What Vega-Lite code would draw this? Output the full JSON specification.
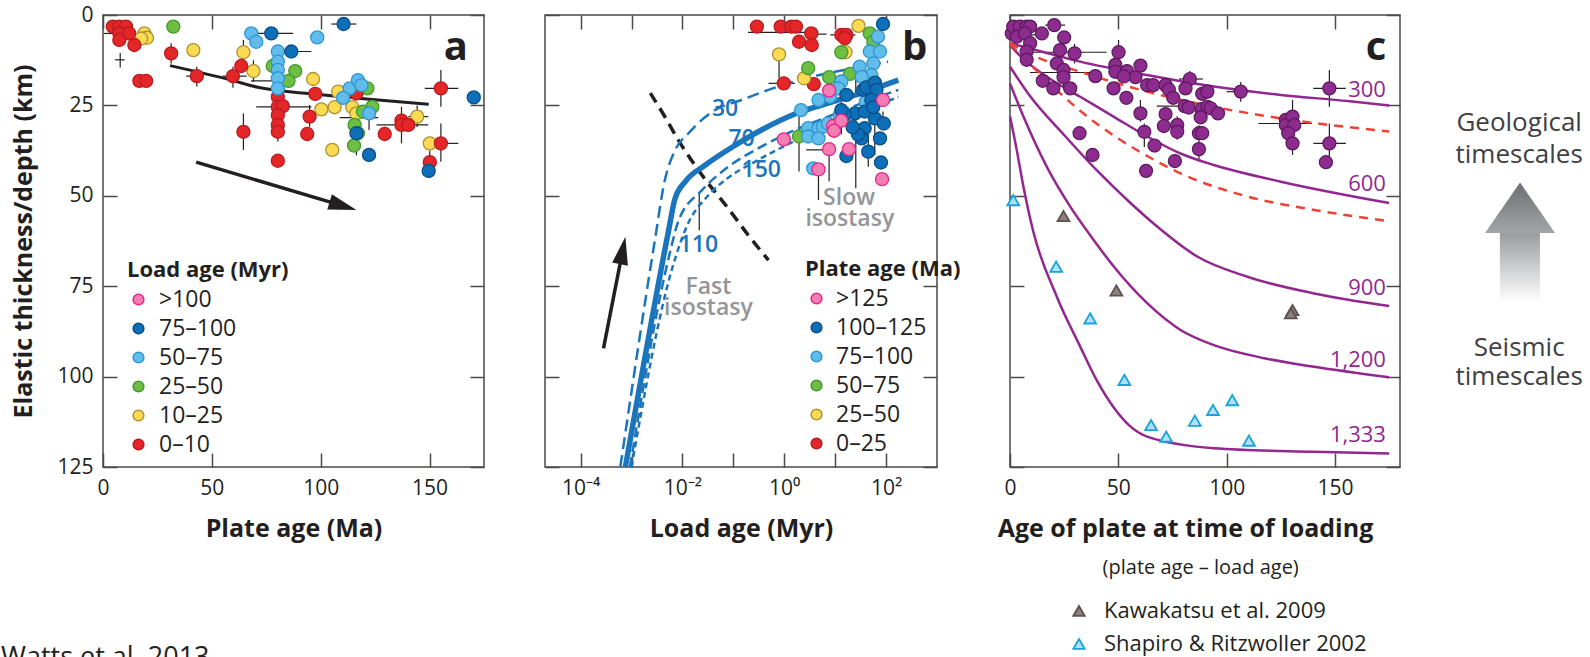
{
"$schema":"https://vega.github.io/schema/vega-lite/v6.json",
"padding":{"left":0,"top":3,"right":5,"bottom":0},
"background":"white",
"config":{
 "font":"Open Sans",
 "view":{"stroke":"#4a4a4a","strokeWidth":1.5},
 "axis":{"domain":false,"grid":false,"tickSize":-14,"tickColor":"#4a4a4a","tickWidth":1.5,"labelFont":"Open Sans","labelFontSize":21,"labelColor":"#231f20","titleFont":"Open Sans","titleFontSize":25,"titleFontWeight":"bold","titleColor":"#231f20","labelFlush":false,"labelOverlap":false},
 "legend":{"labelFont":"Open Sans","titleFont":"Open Sans","labelColor":"#231f20","titleColor":"#231f20"}
},
"datasets":{
 "a_pts":[
  {"x":19.0,"y":5.1,"c":"10–25"},{"x":20.2,"y":6.3,"c":"10–25"},{"x":17.5,"y":6.5,"c":"10–25"},{"x":41.5,"y":9.7,"c":"10–25"},{"x":64.5,"y":10.3,"c":"10–25"},{"x":69.1,"y":15.5,"c":"10–25"},{"x":96.5,"y":17.7,"c":"10–25"},{"x":108.0,"y":21.2,"c":"10–25"},{"x":100.3,"y":26.1,"c":"10–25"},{"x":106.4,"y":25.5,"c":"10–25"},{"x":114.5,"y":25.5,"c":"10–25"},{"x":116.4,"y":27.2,"c":"10–25"},{"x":105.3,"y":37.3,"c":"10–25"},{"x":144.3,"y":28.1,"c":"10–25"},{"x":150.1,"y":35.5,"c":"10–25"},
  {"x":32.3,"y":3.2,"c":"25–50"},{"x":78.0,"y":14.1,"c":"25–50"},{"x":88.3,"y":15.5,"c":"25–50"},{"x":85.2,"y":18.2,"c":"25–50"},{"x":121.4,"y":20.3,"c":"25–50"},{"x":123.7,"y":25.4,"c":"25–50"},{"x":119.4,"y":26.7,"c":"25–50"},{"x":115.6,"y":30.4,"c":"25–50"},{"x":117.1,"y":32.7,"c":"25–50"},{"x":115.3,"y":36.1,"c":"25–50"},
  {"x":4.5,"y":3.2,"c":"0–10"},{"x":7.5,"y":3.2,"c":"0–10"},{"x":10.6,"y":3.2,"c":"0–10"},{"x":7.5,"y":5.1,"c":"0–10"},{"x":12.0,"y":5.1,"c":"0–10"},{"x":7.5,"y":6.9,"c":"0–10"},{"x":14.4,"y":8.3,"c":"0–10"},{"x":31.3,"y":10.6,"c":"0–10"},{"x":16.7,"y":18.2,"c":"0–10"},{"x":19.8,"y":18.2,"c":"0–10"},{"x":43.1,"y":16.9,"c":"0–10"},{"x":59.7,"y":16.9,"c":"0–10"},{"x":63.5,"y":14.1,"c":"0–10"},{"x":64.5,"y":32.3,"c":"0–10"},{"x":80.3,"y":22.6,"c":"0–10"},{"x":80.3,"y":25.4,"c":"0–10"},{"x":82.6,"y":25.2,"c":"0–10"},{"x":80.3,"y":27.7,"c":"0–10"},{"x":80.3,"y":30.4,"c":"0–10"},{"x":80.3,"y":32.3,"c":"0–10"},{"x":80.3,"y":40.3,"c":"0–10"},{"x":94.9,"y":28.1,"c":"0–10"},{"x":93.8,"y":32.9,"c":"0–10"},{"x":97.5,"y":21.8,"c":"0–10"},{"x":116.4,"y":21.7,"c":"0–10"},{"x":129.4,"y":32.9,"c":"0–10"},{"x":137.1,"y":29.2,"c":"0–10"},{"x":137.1,"y":30.4,"c":"0–10"},{"x":140.2,"y":30.4,"c":"0–10"},{"x":155.2,"y":20.3,"c":"0–10"},{"x":155.2,"y":35.5,"c":"0–10"},{"x":150.1,"y":40.7,"c":"0–10"},
  {"x":68.1,"y":5.1,"c":"50–75"},{"x":70.4,"y":7.4,"c":"50–75"},{"x":98.4,"y":6.2,"c":"50–75"},{"x":80.3,"y":10.1,"c":"50–75"},{"x":80.3,"y":12.9,"c":"50–75"},{"x":80.3,"y":15.2,"c":"50–75"},{"x":80.3,"y":17.5,"c":"50–75"},{"x":80.3,"y":20.3,"c":"50–75"},{"x":113.3,"y":20.3,"c":"50–75"},{"x":117.1,"y":18.0,"c":"50–75"},{"x":118.7,"y":19.4,"c":"50–75"},{"x":110.3,"y":22.9,"c":"50–75"},{"x":122.2,"y":27.2,"c":"50–75"},
  {"x":77.3,"y":5.1,"c":"75–100"},{"x":86.5,"y":10.1,"c":"75–100"},{"x":110.5,"y":2.5,"c":"75–100"},{"x":170.3,"y":22.8,"c":"75–100"},{"x":116.4,"y":32.7,"c":"75–100"},{"x":122.2,"y":38.7,"c":"75–100"},{"x":149.6,"y":43.1,"c":"75–100"}
 ],
 "a_ev":[
  {"x":7.9,"y1":10.5,"y2":14.5},{"x":31.3,"y1":7.8,"y2":13.4},{"x":43.1,"y1":14.3,"y2":19.8},{"x":59.7,"y1":14.3,"y2":20.1},{"x":64.5,"y1":27.2,"y2":37.3},{"x":64.5,"y1":6.9,"y2":12.9},{"x":94.9,"y1":24.9,"y2":30.9},{"x":129.4,"y1":30.9,"y2":34.6},{"x":137.1,"y1":25.4,"y2":35.5},{"x":155.2,"y1":15.2,"y2":25.4},{"x":155.2,"y1":30.0,"y2":40.6},{"x":150.1,"y1":37.5,"y2":45.0},{"x":116.4,"y1":28.1,"y2":38.8},{"x":122.2,"y1":23.5,"y2":31.8},{"x":69.1,"y1":12.5,"y2":18.5},{"x":80.3,"y1":24.0,"y2":35.0},{"x":144.3,"y1":25.0,"y2":31.0}
 ],
 "a_eh":[
  {"x1":0.5,"x2":13.8,"y":5.1},{"x1":5.5,"x2":10.0,"y":12.4},{"x1":38.2,"x2":45.1,"y":16.9},{"x1":68.1,"x2":87.3,"y":5.1},{"x1":80.3,"x2":95.7,"y":10.1},{"x1":68.0,"x2":87.0,"y":18.2},{"x1":70.4,"x2":95.7,"y":25.4},{"x1":104.9,"x2":116.4,"y":2.5},{"x1":125.6,"x2":149.4,"y":30.4},{"x1":147.8,"x2":163.2,"y":20.3},{"x1":150.1,"x2":163.2,"y":35.5},{"x1":140.2,"x2":149.4,"y":28.1},{"x1":108.7,"x2":126.4,"y":28.4},{"x1":55.0,"x2":66.0,"y":16.9}
 ],
 "a_line":[{"x":30.8,"y":14.0},{"x":58.9,"y":18.0},{"x":71.1,"y":20.0},{"x":94.2,"y":21.7},{"x":117.1,"y":23.0},{"x":149.6,"y":24.7}],
 "b_pts":[
  {"x":0.29,"y":3.2,"c":"0–25"},{"x":0.85,"y":3.2,"c":"0–25"},{"x":1.38,"y":3.2,"c":"0–25"},{"x":1.70,"y":3.2,"c":"0–25"},{"x":3.4,"y":5.1,"c":"0–25"},{"x":1.95,"y":7.4,"c":"0–25"},{"x":3.47,"y":8.3,"c":"0–25"},{"x":13.2,"y":5.5,"c":"0–25"},{"x":16.6,"y":5.5,"c":"0–25"},{"x":15.5,"y":6.4,"c":"0–25"},{"x":0.98,"y":18.9,"c":"0–25"},{"x":3.8,"y":19.1,"c":"0–25"},
  {"x":28.8,"y":3.0,"c":"25–50"},{"x":0.79,"y":10.9,"c":"25–50"},{"x":2.45,"y":17.5,"c":"25–50"},{"x":16.0,"y":10.3,"c":"25–50"},
  {"x":47.9,"y":5.1,"c":"50–75"},{"x":56.2,"y":7.4,"c":"50–75"},{"x":13.2,"y":10.3,"c":"50–75"},{"x":2.95,"y":14.7,"c":"50–75"},{"x":7.6,"y":17.2,"c":"50–75"},{"x":19.5,"y":16.3,"c":"50–75"},{"x":1.95,"y":33.6,"c":"50–75"},
  {"x":69.2,"y":6.0,"c":"75–100"},{"x":47.9,"y":10.1,"c":"75–100"},{"x":75.9,"y":10.1,"c":"75–100"},{"x":56.2,"y":13.4,"c":"75–100"},{"x":30.2,"y":14.3,"c":"75–100"},{"x":51.3,"y":16.6,"c":"75–100"},{"x":33.1,"y":17.1,"c":"75–100"},{"x":13.2,"y":18.4,"c":"75–100"},{"x":11.5,"y":20.3,"c":"75–100"},{"x":7.9,"y":22.6,"c":"75–100"},{"x":4.7,"y":23.5,"c":"75–100"},{"x":2.14,"y":26.3,"c":"75–100"},{"x":2.95,"y":31.3,"c":"75–100"},{"x":4.7,"y":31.3,"c":"75–100"},{"x":5.75,"y":30.9,"c":"75–100"},{"x":7.2,"y":30.0,"c":"75–100"},{"x":12.3,"y":27.7,"c":"75–100"},{"x":2.95,"y":33.6,"c":"75–100"},{"x":4.7,"y":34.1,"c":"75–100"},{"x":3.7,"y":42.4,"c":"75–100"},{"x":62,"y":21,"c":"75–100"},{"x":40,"y":24,"c":"75–100"},
  {"x":87,"y":2.5,"c":"100–125"},{"x":16.6,"y":22.1,"c":"100–125"},{"x":35.5,"y":20.7,"c":"100–125"},{"x":40.7,"y":20.0,"c":"100–125"},{"x":60.3,"y":18.7,"c":"100–125"},{"x":64.6,"y":20.7,"c":"100–125"},{"x":51.3,"y":23.5,"c":"100–125"},{"x":60.3,"y":28.6,"c":"100–125"},{"x":24.5,"y":27.2,"c":"100–125"},{"x":15.5,"y":27.7,"c":"100–125"},{"x":38,"y":31.3,"c":"100–125"},{"x":33.1,"y":34.1,"c":"100–125"},{"x":75.9,"y":34.1,"c":"100–125"},{"x":44.7,"y":37.8,"c":"100–125"},{"x":16.6,"y":39.0,"c":"100–125"},{"x":79.4,"y":40.8,"c":"100–125"},{"x":38,"y":26.7,"c":"100–125"},{"x":13.2,"y":26.3,"c":"100–125"},{"x":56,"y":25.5,"c":"100–125"},{"x":90,"y":30,"c":"100–125"},{"x":28,"y":33,"c":"100–125"},{"x":22,"y":31,"c":"100–125"},
  {"x":7.6,"y":20.9,"c":">125"},{"x":87,"y":23.5,"c":">125"},{"x":0.98,"y":34.4,"c":">125"},{"x":9.1,"y":30.7,"c":">125"},{"x":13.2,"y":29.2,"c":">125"},{"x":9.5,"y":32.0,"c":">125"},{"x":7.6,"y":37.1,"c":">125"},{"x":18.6,"y":37.1,"c":">125"},{"x":4.7,"y":42.7,"c":">125"},{"x":83.2,"y":45.4,"c":">125"}
 ],
 "b_ev":[
  {"x":1.95,"y1":27.6,"y2":43.3},{"x":4.7,"y1":44.2,"y2":51.2},{"x":7.6,"y1":38.7,"y2":46.0},{"x":25.4,"y1":13.8,"y2":22.1},{"x":25.4,"y1":27.6,"y2":47.9},{"x":60,"y1":28.6,"y2":38.7},{"x":87,"y1":26.7,"y2":30.4},{"x":0.79,"y1":12.0,"y2":17.5},{"x":13.2,"y1":24.0,"y2":33.0},{"x":44.7,"y1":33.0,"y2":42.0},{"x":0.0214,"y1":49.3,"y2":59.5}
 ],
 "b_eh":[
  {"x1":0.195,"x2":0.89,"y":4.8},{"x1":0.66,"x2":4.6,"y":4.8},{"x1":2.5,"x2":6.8,"y":5.3},{"x1":0.49,"x2":1.62,"y":18.9},{"x1":2.7,"x2":6.8,"y":37.3},{"x1":8,"x2":25,"y":5.5}
 ],
 "b_curves":[
  {"x":0.000603,"y":125,"k":"30"},{"x":0.002884,"y":62.2,"k":"30"},{"x":0.004467,"y":46,"k":"30"},{"x":0.007244,"y":37.3,"k":"30"},{"x":0.01318,"y":32.7,"k":"30"},{"x":0.04365,"y":26.3,"k":"30"},{"x":0.1445,"y":23.5,"k":"30"},{"x":0.4898,"y":20.7,"k":"30"},{"x":3.467,"y":17.1,"k":"30"},{"x":33.11,"y":14.3,"k":"30"},{"x":109.6,"y":12.9,"k":"30"},
  {"x":0.0007586,"y":125,"k":"70"},{"x":0.00537,"y":59.5,"k":"70"},{"x":0.007079,"y":51,"k":"70"},{"x":0.01148,"y":46,"k":"70"},{"x":0.02818,"y":41.5,"k":"70"},{"x":0.1096,"y":36,"k":"70"},{"x":0.3548,"y":31.8,"k":"70"},{"x":1.66,"y":27.3,"k":"70"},{"x":7.244,"y":24.4,"k":"70"},{"x":32.36,"y":21.6,"k":"70"},{"x":173.8,"y":18,"k":"70"},
  {"x":0.0009333,"y":125,"k":"110"},{"x":0.005623,"y":66,"k":"110"},{"x":0.008318,"y":57,"k":"110"},{"x":0.02399,"y":48.5,"k":"110"},{"x":0.07943,"y":42,"k":"110"},{"x":0.3548,"y":36.4,"k":"110"},{"x":1.622,"y":31.8,"k":"110"},{"x":7.244,"y":28.1,"k":"110"},{"x":33.11,"y":24.4,"k":"110"},{"x":173.8,"y":20.7,"k":"110"},
  {"x":0.001,"y":125,"k":"150"},{"x":0.00631,"y":70,"k":"150"},{"x":0.01259,"y":58,"k":"150"},{"x":0.03162,"y":50,"k":"150"},{"x":0.07943,"y":45,"k":"150"},{"x":0.263,"y":40.6,"k":"150"},{"x":1.622,"y":34.8,"k":"150"},{"x":7.244,"y":30.5,"k":"150"},{"x":33.11,"y":26.8,"k":"150"},{"x":173.8,"y":22.6,"k":"150"}
 ],
 "b_iso":[{"x":0.002344,"y":21.6},{"x":0.004467,"y":28},{"x":0.008318,"y":34.6},{"x":0.02399,"y":44.2},{"x":0.07943,"y":53.5},{"x":0.1995,"y":61},{"x":0.4898,"y":67.8}],
 "c_pts":[
  {"x":0.8,"y":5.1},{"x":1.5,"y":3.2},{"x":4.6,"y":3.2},{"x":7.7,"y":3.2},{"x":9.3,"y":3.2},{"x":3.1,"y":6.0},{"x":6.9,"y":5.1},{"x":9.3,"y":7.8},{"x":7.7,"y":10.1},{"x":7.7,"y":12.4},{"x":14.7,"y":5.1},{"x":20.4,"y":2.8},{"x":25.0,"y":6.2},{"x":23.1,"y":9.7},{"x":29.8,"y":10.6},{"x":21.6,"y":13.4},{"x":24.7,"y":15.2},{"x":24.7,"y":17.2},{"x":15.1,"y":18.2},{"x":20.0,"y":20.3},{"x":27.8,"y":20.3},{"x":39.4,"y":16.9},{"x":50.1,"y":10.3},{"x":48.6,"y":13.8},{"x":48.6,"y":15.7},{"x":54.0,"y":15.5},{"x":57.9,"y":17.2},{"x":60.2,"y":14.0},{"x":47.8,"y":20.3},{"x":52.5,"y":17.0},{"x":53.7,"y":22.9},{"x":63.3,"y":19.4},{"x":66.1,"y":19.4},{"x":71.8,"y":19.4},{"x":73.3,"y":20.6},{"x":75.3,"y":22.9},{"x":83.0,"y":17.7},{"x":81.0,"y":20.3},{"x":60.2,"y":27.2},{"x":62.0,"y":32.3},{"x":66.7,"y":36.1},{"x":62.8,"y":43.1},{"x":71.8,"y":27.4},{"x":71.0,"y":30.7},{"x":77.2,"y":30.4},{"x":77.2,"y":32.3},{"x":76.1,"y":40.4},{"x":80.6,"y":25.2},{"x":82.5,"y":25.6},{"x":88.7,"y":21.8},{"x":91.1,"y":21.2},{"x":88.4,"y":26.0},{"x":91.1,"y":25.4},{"x":92.6,"y":25.8},{"x":96.0,"y":27.2},{"x":88.0,"y":28.3},{"x":87.2,"y":32.7},{"x":88.7,"y":32.7},{"x":87.2,"y":37.1},{"x":106.5,"y":21.2},{"x":32.1,"y":32.7},{"x":38.1,"y":38.7},{"x":127.3,"y":29.0},{"x":127.3,"y":30.4},{"x":130.4,"y":28.1},{"x":131.2,"y":30.4},{"x":128.4,"y":32.7},{"x":130.4,"y":35.5},{"x":147.4,"y":20.3},{"x":147.4,"y":35.5},{"x":145.8,"y":40.7}
 ],
 "c_ev":[
  {"x":147.4,"y1":15.2,"y2":25.4},{"x":147.4,"y1":30,"y2":40.3},{"x":130.4,"y1":23.5,"y2":38.7},{"x":106.5,"y1":18.5,"y2":24},{"x":50.1,"y1":6.9,"y2":13.4},{"x":29.8,"y1":8,"y2":13.4},{"x":60.2,"y1":23.5,"y2":29.5},{"x":62,"y1":30,"y2":36.5},{"x":87.2,"y1":30.5,"y2":40.4},{"x":77.2,"y1":28,"y2":34.5},{"x":83,"y1":15.5,"y2":20.5},{"x":24.7,"y1":15,"y2":20.5}
 ],
 "c_eh":[
  {"x1":140,"x2":155,"y":20.3},{"x1":140,"x2":155,"y":35.5},{"x1":114.6,"x2":139.4,"y":30},{"x1":9.2,"x2":44.6,"y":10.3},{"x1":9.2,"x2":37,"y":15.9},{"x1":16.2,"x2":25.4,"y":2.8},{"x1":67.7,"x2":81.5,"y":25.2},{"x1":78,"x2":89,"y":17.7},{"x1":100,"x2":113,"y":21.2},{"x1":0.5,"x2":12,"y":5.5}
 ],
 "c_iso":[
  {"x":0,"y":7.8,"k":"300"},{"x":17,"y":10.5,"k":"300"},{"x":32.4,"y":12.9,"k":"300"},{"x":63.3,"y":16.6,"k":"300"},{"x":94.1,"y":19.8,"k":"300"},{"x":125,"y":22.1,"k":"300"},{"x":155.9,"y":23.8,"k":"300"},{"x":175,"y":25,"k":"300"},
  {"x":0,"y":8.3,"k":"600"},{"x":5,"y":11.5,"k":"600"},{"x":17,"y":17.1,"k":"600"},{"x":32.4,"y":22.6,"k":"600"},{"x":47.8,"y":28.1,"k":"600"},{"x":63.3,"y":33.6,"k":"600"},{"x":78.7,"y":38.3,"k":"600"},{"x":94.1,"y":41.5,"k":"600"},{"x":125,"y":46.1,"k":"600"},{"x":175,"y":52,"k":"600"},
  {"x":0,"y":14.3,"k":"900"},{"x":9.3,"y":22.5,"k":"900"},{"x":24.7,"y":33,"k":"900"},{"x":40.1,"y":43,"k":"900"},{"x":55.6,"y":52,"k":"900"},{"x":67.9,"y":58.5,"k":"900"},{"x":86.4,"y":66.8,"k":"900"},{"x":109.6,"y":72.4,"k":"900"},{"x":140.4,"y":77,"k":"900"},{"x":175,"y":80.5,"k":"900"},
  {"x":0,"y":18.9,"k":"1200"},{"x":6.2,"y":28.1,"k":"1200"},{"x":17,"y":42,"k":"1200"},{"x":27.8,"y":53,"k":"1200"},{"x":38.6,"y":62.2,"k":"1200"},{"x":47.8,"y":69.5,"k":"1200"},{"x":63.3,"y":79.7,"k":"1200"},{"x":78.7,"y":87.1,"k":"1200"},{"x":94.1,"y":91.3,"k":"1200"},{"x":117.3,"y":94.9,"k":"1200"},{"x":140.4,"y":97.3,"k":"1200"},{"x":175,"y":100.2,"k":"1200"},
  {"x":0,"y":28.1,"k":"1333"},{"x":3.1,"y":37.3,"k":"1333"},{"x":6.2,"y":47.5,"k":"1333"},{"x":10.8,"y":60,"k":"1333"},{"x":21.6,"y":77.9,"k":"1333"},{"x":32.4,"y":91.7,"k":"1333"},{"x":40,"y":101,"k":"1333"},{"x":47.8,"y":108.5,"k":"1333"},{"x":55,"y":113.5,"k":"1333"},{"x":63.3,"y":116.6,"k":"1333"},{"x":94.1,"y":119.8,"k":"1333"},{"x":140.4,"y":120.8,"k":"1333"},{"x":175,"y":121.3,"k":"1333"}
 ],
 "c_red":[
  {"x":0,"y":7.8,"k":"u"},{"x":10,"y":11,"k":"u"},{"x":32.4,"y":15.7,"k":"u"},{"x":63.3,"y":21.2,"k":"u"},{"x":94.1,"y":25.4,"k":"u"},{"x":125,"y":28.6,"k":"u"},{"x":175,"y":32.2,"k":"u"},
  {"x":0,"y":8,"k":"l"},{"x":10.8,"y":14.5,"k":"l"},{"x":21.6,"y":20.8,"k":"l"},{"x":32.4,"y":26.5,"k":"l"},{"x":47.8,"y":33.3,"k":"l"},{"x":63.3,"y":39,"k":"l"},{"x":78.7,"y":43.8,"k":"l"},{"x":109.6,"y":50.2,"k":"l"},{"x":140.4,"y":53.9,"k":"l"},{"x":175,"y":57,"k":"l"}
 ],
 "c_tri":[
  {"x":1.5,"y":51.2,"s":"Shapiro & Ritzwoller 2002"},{"x":21.3,"y":69.6,"s":"Shapiro & Ritzwoller 2002"},{"x":37,"y":83.9,"s":"Shapiro & Ritzwoller 2002"},{"x":52.8,"y":100.9,"s":"Shapiro & Ritzwoller 2002"},{"x":65.1,"y":113.4,"s":"Shapiro & Ritzwoller 2002"},{"x":72.1,"y":116.6,"s":"Shapiro & Ritzwoller 2002"},{"x":85.3,"y":112.2,"s":"Shapiro & Ritzwoller 2002"},{"x":93.7,"y":109.2,"s":"Shapiro & Ritzwoller 2002"},{"x":102.6,"y":106.5,"s":"Shapiro & Ritzwoller 2002"},{"x":110.3,"y":117.7,"s":"Shapiro & Ritzwoller 2002"},
  {"x":24.7,"y":55.6,"s":"Kawakatsu et al. 2009"},{"x":49.1,"y":76.2,"s":"Kawakatsu et al. 2009"},{"x":130.4,"y":81.6,"s":"Kawakatsu et al. 2009"},{"x":129.6,"y":82.5,"s":"Kawakatsu et al. 2009"}
 ]
},
"spacing":34,
"resolve":{"scale":{"fill":"independent","stroke":"independent","shape":"independent"},"legend":{"fill":"independent","stroke":"independent","shape":"independent"}},
"hconcat":[
 {
  "spacing":57,
  "resolve":{"scale":{"fill":"independent","stroke":"independent","shape":"independent"},"legend":{"fill":"independent","stroke":"independent","shape":"independent"}},
  "hconcat":[
   {
    "width":381,"height":452,
    "resolve":{"axis":{"x":"independent","y":"independent"}},
    "layer":[
     {"data":{"name":"a_ev"},"mark":{"type":"rule","color":"#231f20","strokeWidth":1.2},
      "encoding":{
       "x":{"field":"x","type":"quantitative","scale":{"domain":[0,175],"nice":false,"zero":false},"axis":{"orient":"bottom","values":[0,50,100,150],"title":"Plate age (Ma)","labelPadding":24,"titlePadding":18}},
       "y":{"field":"y1","type":"quantitative","scale":{"domain":[0,125],"reverse":true,"nice":false,"zero":false},"axis":{"orient":"left","values":[0,25,50,75,100,125],"title":"Elastic thickness/depth (km)","labelPadding":24,"titlePadding":20}},
       "y2":{"field":"y2"}}},
     {"data":{"name":"a_eh"},"mark":{"type":"rule","color":"#231f20","strokeWidth":1.2},
      "encoding":{
       "x":{"field":"x1","type":"quantitative","scale":{"domain":[0,175],"nice":false,"zero":false},"axis":{"orient":"top","values":[0,50,100,150],"labels":false,"title":null}},
       "x2":{"field":"x2"},
       "y":{"field":"y","type":"quantitative","scale":{"domain":[0,125],"reverse":true,"nice":false,"zero":false},"axis":{"orient":"right","values":[0,25,50,75,100,125],"labels":false,"title":null}}}},
     {"data":{"name":"a_line"},"mark":{"type":"line","color":"#231f20","strokeWidth":3,"interpolate":"monotone"},
      "encoding":{"x":{"field":"x","type":"quantitative","scale":{"domain":[0,175],"nice":false,"zero":false},"axis":null},"y":{"field":"y","type":"quantitative","scale":{"domain":[0,125],"reverse":true,"nice":false,"zero":false},"axis":null}}},
     {"data":{"name":"a_pts"},"mark":{"type":"point","filled":true,"size":170,"strokeWidth":1.3,"opacity":1},
      "encoding":{
       "x":{"field":"x","type":"quantitative","scale":{"domain":[0,175],"nice":false,"zero":false},"axis":null},
       "y":{"field":"y","type":"quantitative","scale":{"domain":[0,125],"reverse":true,"nice":false,"zero":false},"axis":null},
       "fill":{"field":"c","type":"nominal","scale":{"domain":[">100","75–100","50–75","25–50","10–25","0–10"],"range":["#f47eb3","#0d6fb8","#62bcea","#6fbe44","#fbdb52","#e52629"]},"legend":{"title":"Load age (Myr)","orient":"none","legendX":24,"legendY":245,"direction":"vertical","titleFontSize":22,"titleFontWeight":"bold","labelFontSize":23,"symbolSize":115,"symbolStrokeWidth":1.5,"rowPadding":5,"titlePadding":6,"labelOffset":9,"symbolType":"circle"}},
       "stroke":{"field":"c","type":"nominal","scale":{"domain":[">100","75–100","50–75","25–50","10–25","0–10"],"range":["#e2278b","#0a4f88","#2b97d4","#3f9a2e","#b09035","#b81c20"]},"legend":{"title":"Load age (Myr)","orient":"none","legendX":24,"legendY":245,"direction":"vertical","titleFontSize":22,"titleFontWeight":"bold","labelFontSize":23,"symbolSize":115,"symbolStrokeWidth":1.5,"rowPadding":5,"titlePadding":6,"labelOffset":9,"symbolType":"circle"}}}},
     {"data":{"values":[{"x":42.8,"y":40.7},{"x":109.8,"y":52.7}]},"mark":{"type":"line","color":"#231f20","strokeWidth":3.5},
      "encoding":{"x":{"field":"x","type":"quantitative","scale":{"domain":[0,175],"nice":false,"zero":false},"axis":null},"y":{"field":"y","type":"quantitative","scale":{"domain":[0,125],"reverse":true,"nice":false,"zero":false},"axis":null}}},
     {"data":{"values":[{"x":116.4,"y":53.9}]},"mark":{"type":"point","shape":"M0,0L0.8,2.8L-0.8,2.8Z","size":400,"filled":true,"color":"#231f20","opacity":1,"angle":106.6},
      "encoding":{"x":{"field":"x","type":"quantitative","scale":{"domain":[0,175],"nice":false,"zero":false},"axis":null},"y":{"field":"y","type":"quantitative","scale":{"domain":[0,125],"reverse":true,"nice":false,"zero":false},"axis":null}}},
     {"data":{"values":[{"x":162.1,"y":12.4,"t":"a"}]},"mark":{"type":"text","fontSize":40,"fontWeight":"bold","color":"#231f20","align":"center","baseline":"alphabetic"},
      "encoding":{"x":{"field":"x","type":"quantitative","scale":{"domain":[0,175],"nice":false,"zero":false},"axis":null},"y":{"field":"y","type":"quantitative","scale":{"domain":[0,125],"reverse":true,"nice":false,"zero":false},"axis":null},"text":{"field":"t"}}},
     {"data":{"values":[{"x":-46.85,"y":177.9,"t":"Watts et al. 2013"}]},"mark":{"type":"text","fontSize":27,"color":"#231f20","align":"left","baseline":"middle"},
      "encoding":{"x":{"field":"x","type":"quantitative","scale":{"domain":[0,175],"nice":false,"zero":false},"axis":null},"y":{"field":"y","type":"quantitative","scale":{"domain":[0,125],"reverse":true,"nice":false,"zero":false},"axis":null},"text":{"field":"t"}}}
    ]
   },
   {
    "width":392,"height":452,
    "resolve":{"axis":{"x":"independent","y":"independent"}},
    "layer":[
     {"data":{"name":"b_ev"},"mark":{"type":"rule","color":"#231f20","strokeWidth":1.2},
      "encoding":{
       "x":{"field":"x","type":"quantitative","scale":{"type":"log","domain":[0.00002,1000],"nice":false},"axis":{"orient":"bottom","values":[0.0001,0.001,0.01,0.1,1,10,100],"labelExpr":"datum.value == 0.0001 ? '10⁻⁴' : datum.value == 0.01 ? '10⁻²' : datum.value == 1 ? '10⁰' : datum.value == 100 ? '10²' : ''","title":"Load age (Myr)","labelPadding":24,"titlePadding":18}},
       "y":{"field":"y1","type":"quantitative","scale":{"domain":[0,125],"reverse":true,"nice":false,"zero":false},"axis":{"orient":"left","values":[0,25,50,75,100,125],"labels":false,"title":null}},
       "y2":{"field":"y2"}}},
     {"data":{"name":"b_eh"},"mark":{"type":"rule","color":"#231f20","strokeWidth":1.2},
      "encoding":{
       "x":{"field":"x1","type":"quantitative","scale":{"type":"log","domain":[0.00002,1000],"nice":false},"axis":{"orient":"top","values":[0.0001,0.001,0.01,0.1,1,10,100],"labels":false,"title":null}},
       "x2":{"field":"x2"},
       "y":{"field":"y","type":"quantitative","scale":{"domain":[0,125],"reverse":true,"nice":false,"zero":false},"axis":{"orient":"right","values":[0,25,50,75,100,125],"labels":false,"title":null}}}},
     {"data":{"name":"b_iso"},"mark":{"type":"line","color":"#231f20","strokeWidth":3.5,"strokeDash":[11,7],"interpolate":"monotone"},
      "encoding":{"x":{"field":"x","type":"quantitative","scale":{"type":"log","domain":[0.00002,1000],"nice":false},"axis":null},"y":{"field":"y","type":"quantitative","scale":{"domain":[0,125],"reverse":true,"nice":false,"zero":false},"axis":null}}},
     {"data":{"name":"b_curves"},"transform":[{"filter":"datum.k == '30'"}],"mark":{"type":"line","color":"#1b75bc","strokeWidth":2.5,"strokeDash":[12,6],"interpolate":"monotone"},
      "encoding":{"x":{"field":"x","type":"quantitative","scale":{"type":"log","domain":[0.00002,1000],"nice":false},"axis":null},"y":{"field":"y","type":"quantitative","scale":{"domain":[0,125],"reverse":true,"nice":false,"zero":false},"axis":null}}},
     {"data":{"name":"b_curves"},"transform":[{"filter":"datum.k == '110'"}],"mark":{"type":"line","color":"#1b75bc","strokeWidth":2.5,"strokeDash":[10,5],"interpolate":"monotone"},
      "encoding":{"x":{"field":"x","type":"quantitative","scale":{"type":"log","domain":[0.00002,1000],"nice":false},"axis":null},"y":{"field":"y","type":"quantitative","scale":{"domain":[0,125],"reverse":true,"nice":false,"zero":false},"axis":null}}},
     {"data":{"name":"b_curves"},"transform":[{"filter":"datum.k == '150'"}],"mark":{"type":"line","color":"#1b75bc","strokeWidth":2.5,"strokeDash":[6,4],"interpolate":"monotone"},
      "encoding":{"x":{"field":"x","type":"quantitative","scale":{"type":"log","domain":[0.00002,1000],"nice":false},"axis":null},"y":{"field":"y","type":"quantitative","scale":{"domain":[0,125],"reverse":true,"nice":false,"zero":false},"axis":null}}},
     {"data":{"name":"b_curves"},"transform":[{"filter":"datum.k == '70'"}],"mark":{"type":"line","color":"#1b75bc","strokeWidth":5.5,"interpolate":"monotone"},
      "encoding":{"x":{"field":"x","type":"quantitative","scale":{"type":"log","domain":[0.00002,1000],"nice":false},"axis":null},"y":{"field":"y","type":"quantitative","scale":{"domain":[0,125],"reverse":true,"nice":false,"zero":false},"axis":null}}},
     {"data":{"values":[{"x":0.0002818,"y":92.2},{"x":0.000665,"y":65.4}]},"mark":{"type":"line","color":"#231f20","strokeWidth":3.5},
      "encoding":{"x":{"field":"x","type":"quantitative","scale":{"type":"log","domain":[0.00002,1000],"nice":false},"axis":null},"y":{"field":"y","type":"quantitative","scale":{"domain":[0,125],"reverse":true,"nice":false,"zero":false},"axis":null}}},
     {"data":{"values":[{"x":0.0007586,"y":61.3}]},"mark":{"type":"point","shape":"M0,0L0.8,2.8L-0.8,2.8Z","size":400,"filled":true,"color":"#231f20","opacity":1,"angle":11},
      "encoding":{"x":{"field":"x","type":"quantitative","scale":{"type":"log","domain":[0.00002,1000],"nice":false},"axis":null},"y":{"field":"y","type":"quantitative","scale":{"domain":[0,125],"reverse":true,"nice":false,"zero":false},"axis":null}}},
     {"data":{"name":"b_pts"},"mark":{"type":"point","filled":true,"size":170,"strokeWidth":1.3,"opacity":1},
      "encoding":{
       "x":{"field":"x","type":"quantitative","scale":{"type":"log","domain":[0.00002,1000],"nice":false},"axis":null},
       "y":{"field":"y","type":"quantitative","scale":{"domain":[0,125],"reverse":true,"nice":false,"zero":false},"axis":null},
       "fill":{"field":"c","type":"nominal","scale":{"domain":[">125","100–125","75–100","50–75","25–50","0–25"],"range":["#f47eb3","#0d6fb8","#62bcea","#6fbe44","#fbdb52","#e52629"]},"legend":{"title":"Plate age (Ma)","orient":"none","legendX":260,"legendY":244,"direction":"vertical","titleFontSize":22,"titleFontWeight":"bold","labelFontSize":23,"symbolSize":115,"symbolStrokeWidth":1.5,"rowPadding":5,"titlePadding":6,"labelOffset":8,"symbolType":"circle"}},
       "stroke":{"field":"c","type":"nominal","scale":{"domain":[">125","100–125","75–100","50–75","25–50","0–25"],"range":["#e2278b","#0a4f88","#2b97d4","#3f9a2e","#b09035","#b81c20"]},"legend":{"title":"Plate age (Ma)","orient":"none","legendX":260,"legendY":244,"direction":"vertical","titleFontSize":22,"titleFontWeight":"bold","labelFontSize":23,"symbolSize":115,"symbolStrokeWidth":1.5,"rowPadding":5,"titlePadding":6,"labelOffset":8,"symbolType":"circle"}}}},
     {"data":{"values":[{"x":0.0687,"y":26.0,"t":"30"},{"x":0.1455,"y":34.2,"t":"70"},{"x":0.354,"y":42.9,"t":"150"},{"x":0.0206,"y":63.6,"t":"110"}]},"mark":{"type":"text","fontSize":23,"fontWeight":600,"color":"#1b75bc","align":"center","baseline":"middle"},
      "encoding":{"x":{"field":"x","type":"quantitative","scale":{"type":"log","domain":[0.00002,1000],"nice":false},"axis":null},"y":{"field":"y","type":"quantitative","scale":{"domain":[0,125],"reverse":true,"nice":false,"zero":false},"axis":null},"text":{"field":"t"}}},
     {"data":{"values":[{"x":0.0324,"y":75.1,"t":"Fast"},{"x":0.0324,"y":81.0,"t":"isostasy"},{"x":18.7,"y":50.7,"t":"Slow"},{"x":19.4,"y":56.4,"t":"isostasy"}]},"mark":{"type":"text","fontSize":23,"fontWeight":600,"color":"#939598","align":"center","baseline":"middle"},
      "encoding":{"x":{"field":"x","type":"quantitative","scale":{"type":"log","domain":[0.00002,1000],"nice":false},"axis":null},"y":{"field":"y","type":"quantitative","scale":{"domain":[0,125],"reverse":true,"nice":false,"zero":false},"axis":null},"text":{"field":"t"}}},
     {"data":{"values":[{"x":365.6,"y":12.4,"t":"b"}]},"mark":{"type":"text","fontSize":40,"fontWeight":"bold","color":"#231f20","align":"center","baseline":"alphabetic"},
      "encoding":{"x":{"field":"x","type":"quantitative","scale":{"type":"log","domain":[0.00002,1000],"nice":false},"axis":null},"y":{"field":"y","type":"quantitative","scale":{"domain":[0,125],"reverse":true,"nice":false,"zero":false},"axis":null},"text":{"field":"t"}}}
    ]
   }
  ]
 },
 {
  "width":390,"height":452,
  "resolve":{"axis":{"x":"independent","y":"independent"}},
  "layer":[
   {"data":{"name":"c_ev"},"mark":{"type":"rule","color":"#231f20","strokeWidth":1.2},
    "encoding":{
     "x":{"field":"x","type":"quantitative","scale":{"domain":[0,180],"nice":false,"zero":false},"axis":{"orient":"bottom","values":[0,50,100,150],"title":"Age of plate at time of loading","titleX":175,"labelPadding":24,"titlePadding":18}},
     "y":{"field":"y1","type":"quantitative","scale":{"domain":[0,125],"reverse":true,"nice":false,"zero":false},"axis":{"orient":"left","values":[0,25,50,75,100,125],"labels":false,"title":null}},
     "y2":{"field":"y2"}}},
   {"data":{"name":"c_eh"},"mark":{"type":"rule","color":"#231f20","strokeWidth":1.2},
    "encoding":{
     "x":{"field":"x1","type":"quantitative","scale":{"domain":[0,180],"nice":false,"zero":false},"axis":{"orient":"top","values":[0,50,100,150],"labels":false,"title":null}},
     "x2":{"field":"x2"},
     "y":{"field":"y","type":"quantitative","scale":{"domain":[0,125],"reverse":true,"nice":false,"zero":false},"axis":{"orient":"right","values":[0,25,50,75,100,125],"labels":false,"title":null}}}},
   {"data":{"name":"c_iso"},"mark":{"type":"line","color":"#92278f","strokeWidth":2.5,"interpolate":"monotone"},
    "encoding":{"x":{"field":"x","type":"quantitative","scale":{"domain":[0,180],"nice":false,"zero":false},"axis":null},"y":{"field":"y","type":"quantitative","scale":{"domain":[0,125],"reverse":true,"nice":false,"zero":false},"axis":null},"detail":{"field":"k"}}},
   {"data":{"name":"c_red"},"mark":{"type":"line","color":"#ef4136","strokeWidth":2.5,"strokeDash":[9,7],"interpolate":"monotone"},
    "encoding":{"x":{"field":"x","type":"quantitative","scale":{"domain":[0,180],"nice":false,"zero":false},"axis":null},"y":{"field":"y","type":"quantitative","scale":{"domain":[0,125],"reverse":true,"nice":false,"zero":false},"axis":null},"detail":{"field":"k"}}},
   {"data":{"name":"c_pts"},"mark":{"type":"point","filled":true,"size":170,"fill":"#8d2c8e","stroke":"#5a1a5c","strokeWidth":1.2,"opacity":1},
    "encoding":{"x":{"field":"x","type":"quantitative","scale":{"domain":[0,180],"nice":false,"zero":false},"axis":null},"y":{"field":"y","type":"quantitative","scale":{"domain":[0,125],"reverse":true,"nice":false,"zero":false},"axis":null}}},
   {"data":{"name":"c_tri"},"mark":{"type":"point","filled":true,"size":140,"strokeWidth":1.8,"opacity":1},
    "encoding":{
     "x":{"field":"x","type":"quantitative","scale":{"domain":[0,180],"nice":false,"zero":false},"axis":null},
     "y":{"field":"y","type":"quantitative","scale":{"domain":[0,125],"reverse":true,"nice":false,"zero":false},"axis":null},
     "shape":{"field":"s","type":"nominal","scale":{"domain":["Kawakatsu et al. 2009","Shapiro & Ritzwoller 2002"],"range":["triangle-up","triangle-up"]},"legend":{"title":null,"orient":"none","legendX":58,"legendY":585,"direction":"vertical","labelFontSize":22,"labelLimit":400,"symbolSize":130,"symbolStrokeWidth":1.8,"rowPadding":11,"labelOffset":14}},
     "fill":{"field":"s","type":"nominal","scale":{"domain":["Kawakatsu et al. 2009","Shapiro & Ritzwoller 2002"],"range":["#8e8080","#b2e1f7"]},"legend":{"title":null,"orient":"none","legendX":58,"legendY":585,"direction":"vertical","labelFontSize":22,"labelLimit":400,"symbolSize":130,"symbolStrokeWidth":1.8,"rowPadding":11,"labelOffset":14}},
     "stroke":{"field":"s","type":"nominal","scale":{"domain":["Kawakatsu et al. 2009","Shapiro & Ritzwoller 2002"],"range":["#5d5252","#19a3dc"]},"legend":{"title":null,"orient":"none","legendX":58,"legendY":585,"direction":"vertical","labelFontSize":22,"labelLimit":400,"symbolSize":130,"symbolStrokeWidth":1.8,"rowPadding":11,"labelOffset":14}}}},
   {"data":{"values":[{"x":173.5,"y":20.7,"t":"300"},{"x":173.5,"y":46.6,"t":"600"},{"x":173.5,"y":75.6,"t":"900"},{"x":173.5,"y":95.4,"t":"1,200"},{"x":173.5,"y":116.2,"t":"1,333"}]},"mark":{"type":"text","fontSize":22,"color":"#92278f","align":"right","baseline":"middle"},
    "encoding":{"x":{"field":"x","type":"quantitative","scale":{"domain":[0,180],"nice":false,"zero":false},"axis":null},"y":{"field":"y","type":"quantitative","scale":{"domain":[0,125],"reverse":true,"nice":false,"zero":false},"axis":null},"text":{"field":"t"}}},
   {"data":{"values":[{"x":168.9,"y":12.4,"t":"c"}]},"mark":{"type":"text","fontSize":40,"fontWeight":"bold","color":"#231f20","align":"center","baseline":"alphabetic"},
    "encoding":{"x":{"field":"x","type":"quantitative","scale":{"domain":[0,180],"nice":false,"zero":false},"axis":null},"y":{"field":"y","type":"quantitative","scale":{"domain":[0,125],"reverse":true,"nice":false,"zero":false},"axis":null},"text":{"field":"t"}}},
   {"data":{"values":[{"x":88,"y":152.9,"t":"(plate age – load age)"}]},"mark":{"type":"text","fontSize":20,"color":"#231f20","align":"center","baseline":"middle"},
    "encoding":{"x":{"field":"x","type":"quantitative","scale":{"domain":[0,180],"nice":false,"zero":false},"axis":null},"y":{"field":"y","type":"quantitative","scale":{"domain":[0,125],"reverse":true,"nice":false,"zero":false},"axis":null},"text":{"field":"t"}}},
   {"data":{"values":[{"x":235,"y":29.9,"t":"Geological"},{"x":235,"y":38.7,"t":"timescales"},{"x":235,"y":92.1,"t":"Seismic"},{"x":235,"y":100.1,"t":"timescales"}]},"mark":{"type":"text","fontSize":26,"color":"#414042","align":"center","baseline":"middle"},
    "encoding":{"x":{"field":"x","type":"quantitative","scale":{"domain":[0,180],"nice":false,"zero":false},"axis":null},"y":{"field":"y","type":"quantitative","scale":{"domain":[0,125],"reverse":true,"nice":false,"zero":false},"axis":null},"text":{"field":"t"}}},
   {"data":{"values":[{"x1":226.1,"x2":244.6,"y1":60.3,"y2":79.4}]},"mark":{"type":"rect","fill":{"gradient":"linear","x1":0,"y1":1,"x2":0,"y2":0,"stops":[{"offset":0,"color":"#ffffff"},{"offset":1,"color":"#9a9c9e"}]}},
    "encoding":{"x":{"field":"x1","type":"quantitative","scale":{"domain":[0,180],"nice":false,"zero":false},"axis":null},"x2":{"field":"x2"},"y":{"field":"y1","type":"quantitative","scale":{"domain":[0,125],"reverse":true,"nice":false,"zero":false},"axis":null},"y2":{"field":"y2"}}},
   {"data":{"values":[{"x":235.4,"y":47.8}]},"mark":{"type":"point","shape":"M0,-0.15L1,1.29L-1,1.29Z","size":4900,"filled":true,"opacity":1,"strokeWidth":0,"fill":{"gradient":"linear","x1":0,"y1":0,"x2":0,"y2":1,"stops":[{"offset":0,"color":"#6d6e71"},{"offset":1,"color":"#a3a5a7"}]}},
    "encoding":{"x":{"field":"x","type":"quantitative","scale":{"domain":[0,180],"nice":false,"zero":false},"axis":null},"y":{"field":"y","type":"quantitative","scale":{"domain":[0,125],"reverse":true,"nice":false,"zero":false},"axis":null}}}
  ]
 }
]
}
